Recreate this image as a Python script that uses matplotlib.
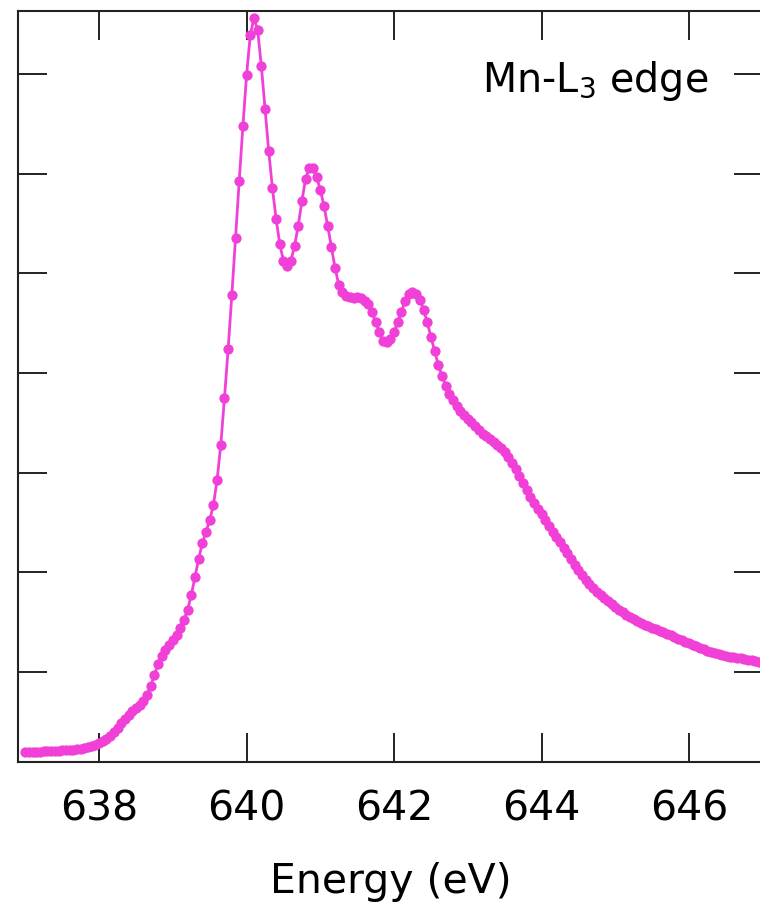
import numpy as np
import matplotlib
matplotlib.use("Agg")
import matplotlib.pyplot as plt

plt.rcParams['font.family'] = ['DejaVu Sans']
plt.rcParams['mathtext.default'] = 'regular'

# Energy grid (eV), sampled every 0.05 eV
energy_start = 637.00
energy_step = 0.05
# Normalised intensity (arb. units)
intensity = [
    0.193, 0.195, 0.198, 0.200, 0.202, 0.203, 0.205, 0.208, 0.210, 0.212,
    0.214, 0.216, 0.218, 0.222, 0.226, 0.232, 0.238, 0.248, 0.258, 0.268,
    0.283, 0.303, 0.328, 0.358, 0.398, 0.438, 0.488, 0.529, 0.569, 0.604,
    0.634, 0.669, 0.704, 0.769, 0.860, 0.970, 1.080, 1.160, 1.221, 1.271,
    1.321, 1.371, 1.441, 1.522, 1.622, 1.772, 1.953, 2.133, 2.294, 2.404,
    2.525, 2.675, 2.926, 3.277, 3.749, 4.240, 4.782, 5.353, 5.925, 6.477,
    6.988, 7.389, 7.560, 7.439, 7.078, 6.647, 6.226, 5.855, 5.544, 5.293,
    5.122, 5.072, 5.122, 5.273, 5.474, 5.724, 5.945, 6.055, 6.055, 5.965,
    5.835, 5.674, 5.474, 5.263, 5.052, 4.882, 4.812, 4.772, 4.762, 4.752,
    4.762, 4.752, 4.721, 4.691, 4.611, 4.511, 4.410, 4.320, 4.310, 4.340,
    4.410, 4.511, 4.611, 4.721, 4.791, 4.812, 4.791, 4.731, 4.631, 4.511,
    4.360, 4.220, 4.080, 3.969, 3.869, 3.789, 3.729, 3.668, 3.618, 3.578,
    3.538, 3.508, 3.468, 3.428, 3.392, 3.362, 3.332, 3.307, 3.277, 3.247,
    3.207, 3.157, 3.096, 3.036, 2.966, 2.896, 2.826, 2.756, 2.696, 2.636,
    2.580, 2.525, 2.465, 2.409, 2.354, 2.299, 2.244, 2.189, 2.133, 2.078,
    2.023, 1.973, 1.923, 1.883, 1.843, 1.802, 1.772, 1.737, 1.707, 1.682,
    1.652, 1.622, 1.597, 1.572, 1.552, 1.532, 1.512, 1.492, 1.476, 1.461,
    1.446, 1.431, 1.411, 1.396, 1.381, 1.366, 1.351, 1.331, 1.316, 1.301,
    1.286, 1.271, 1.256, 1.241, 1.226, 1.211, 1.201, 1.186, 1.176, 1.166,
    1.160, 1.155, 1.150, 1.145, 1.140, 1.135, 1.125, 1.120, 1.110, 1.105,
]
energy = np.round(energy_start + energy_step * np.arange(len(intensity)), 2)

x_ticks = [638, 640, 642, 644, 646]
y_ticks = [1, 2, 3, 4, 5, 6, 7]
x_label = "Energy (eV)"
annotation = "Mn-L$_3$ edge"

fig = plt.figure(figsize=(7.6, 9.03), dpi=100)
ax = fig.add_axes([18/760, 140.3/903, 744.75/760, 751/903])

ax.plot(energy, intensity, color='#F040D8', lw=2.0, marker='o', ms=7.4,
        markeredgewidth=0, clip_on=True)

ax.set_xlim(636.9, 647.0)
ax.set_ylim(0.1, 7.633)
ax.set_xticks(x_ticks)
ax.set_yticks(y_ticks)
ax.set_yticklabels([])
ax.tick_params(direction='in', length=21, width=1.4, top=True, right=True,
               color='#222222', labelsize=29.5, pad=19)
ax.tick_params(axis='y', labelleft=False)
for s in ax.spines.values():
    s.set_linewidth(1.5)
    s.set_color('#222222')
ax.set_xlabel(x_label, fontsize=29.5, labelpad=24)

ax.text(0.9265, 0.8935, annotation, transform=ax.transAxes, ha='right',
        va='baseline', fontsize=28.5)

fig.savefig('out.png', dpi=100)
